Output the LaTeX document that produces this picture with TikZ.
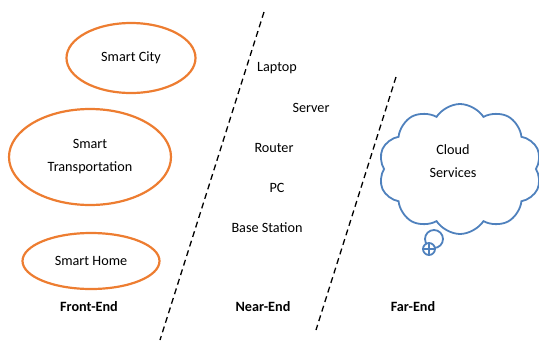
\documentclass[tikz,border=0pt]{standalone}
\usepackage{fontspec}
\setmainfont{Carlito}
\usepackage{xcolor}
\usepackage{tikz}
\usetikzlibrary{shapes.geometric,shapes.symbols}

\definecolor{appOrange}{RGB}{237,125,49}
\definecolor{cloudBlue}{RGB}{79,129,189}

\begin{document}
\begin{tikzpicture}[
      x=1pt, y=-1pt,
      font=\fontsize{14.2}{23}\selectfont,
      app/.style={ellipse, draw=appOrange, line width=2.2pt, inner sep=0pt,
                  align=center},
      device/.style={inner sep=1pt},
      layer/.style={font=\fontsize{14.2}{16}\selectfont\bfseries},
      border/.style={dashed, line width=1.3pt, dash pattern=on 6pt off 4pt},
      bubble/.style={circle, draw=cloudBlue, line width=1.8pt, fill=white,
                     inner sep=0pt},
    ]
    \useasboundingbox (0,0) rectangle (539,341);

    % --- front-end applications ------------------------------------------
    \node[app, minimum width=129, minimum height=70] (city)  at (131, 58)
         {Smart City};
    \node[app, minimum width=162, minimum height=96] (trans) at (90, 157)
         {Smart\\Transportation};
    \node[app, minimum width=137, minimum height=56] (home)  at (91, 261)
         {Smart Home};

    % --- near-end devices ------------------------------------------------
    \node[device] (laptop) at (277, 68)  {Laptop};
    \node[device] (server) at (311, 108) {Server};
    \node[device] (router) at (274, 148) {Router};
    \node[device] (pc)     at (277, 188) {PC};
    \node[device] (bs)     at (267, 228) {Base Station};

    % --- far-end cloud with thought-bubble tail --------------------------
    \node[bubble, minimum size=18] (tailA) at (434, 239) {};
    \node[bubble, minimum size=12] (tailB) at (429, 249) {};
    \draw[cloudBlue, line width=1.2pt] (tailB.west) -- (tailB.east)
         (tailB.north) -- (tailB.south);
    \node[cloud, cloud puffs=10, cloud puff arc=115, aspect=1.25,
          draw=cloudBlue, line width=1.8pt, fill=white,
          minimum width=163, minimum height=130] (cloud) at (460, 169) {};
    \node[align=center] (cloudtxt) at (453, 161) {Cloud\\Services};

    % --- layer labels ----------------------------------------------------
    \node[layer] (front) at (89, 307)  {Front-End};
    \node[layer] (near)  at (263, 307) {Near-End};
    \node[layer] (far)   at (413, 307) {Far-End};

    % --- dashed borders between the layers -------------------------------
    \coordinate (b1top) at (264, 12);
    \coordinate (b1bot) at (160, 340);
    \coordinate (b2top) at (396, 77);
    \coordinate (b2bot) at (316, 330);
    \draw[border] (b1top) -- (b1bot);
    \draw[border] (b2top) -- (b2bot);
  \end{tikzpicture}
\end{document}
